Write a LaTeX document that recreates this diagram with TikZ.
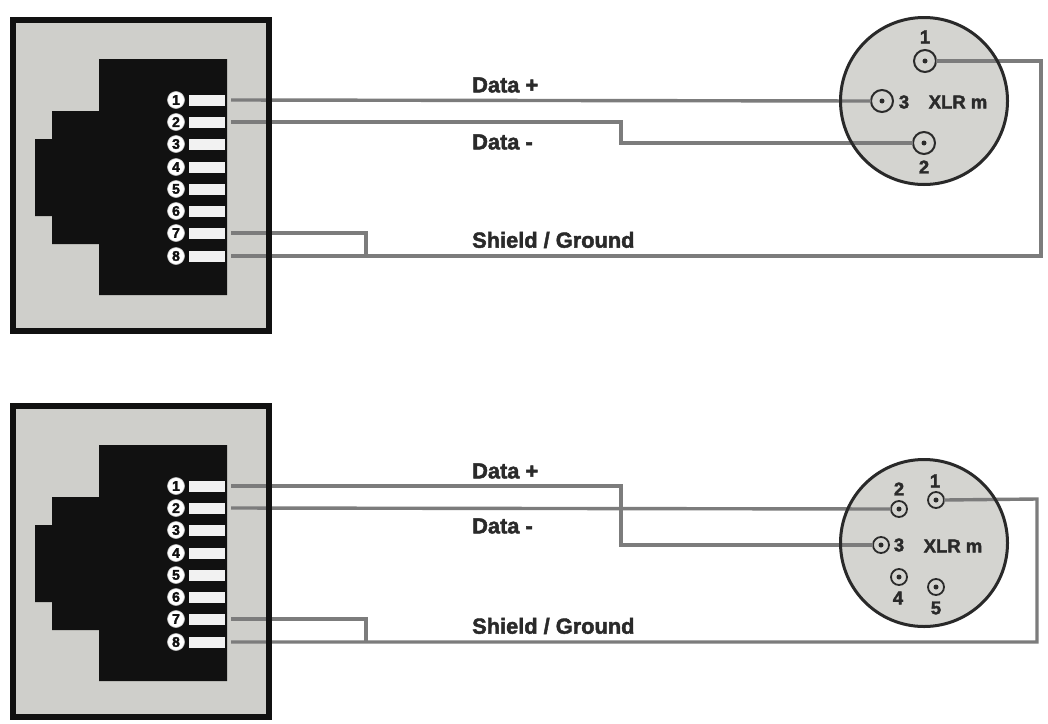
\documentclass[tikz,border=0pt]{standalone}
\usepackage{fontspec}
\setmainfont{Liberation Sans}[BoldFeatures={FakeBold=2}]
\definecolor{panelgrey}{HTML}{CFCFCB}
\definecolor{ink}{HTML}{111111}
\definecolor{wiregrey}{HTML}{7C7C7C}
\definecolor{labelink}{HTML}{2A2A2A}
\tikzset{
  panelbase/.style={rectangle,fill=panelgrey,minimum width=256pt,minimum height=311pt,inner sep=0pt,outer sep=0pt},
  panelline/.style={draw=ink,line width=6pt,line join=miter},
  padbox/.style={rectangle,fill=white!95!black,minimum width=36pt,minimum height=11pt,inner sep=0pt,outer sep=0pt},
  numdisc/.style={circle,fill=white,draw=white!75!black,line width=0.6pt,minimum size=17pt,inner sep=0pt,text=ink,font=\bfseries\fontsize{14}{14}\selectfont},
  xlrbase/.style={circle,fill=panelgrey!90!white,minimum size=169pt,inner sep=0pt,outer sep=0pt},
  xlrline/.style={draw=ink!90,line width=3pt},
  pinbig/.style={circle,draw=labelink,line width=2pt,minimum size=22pt,inner sep=0pt,outer sep=0pt},
  pinsmall/.style={circle,draw=labelink,line width=1.8pt,minimum size=16pt,inner sep=0pt,outer sep=0pt},
  pindot/.style={circle,fill=labelink,minimum size=5pt,inner sep=0pt},
  wire/.style={draw=wiregrey,line width=3.4pt,line join=miter},
  caption/.style={anchor=west,inner sep=0pt,text=labelink,font=\bfseries\fontsize{21.8}{22}\selectfont},
  pinlabel/.style={inner sep=0pt,text=labelink,font=\bfseries\fontsize{18.5}{19}\selectfont},
}
% #1 prefix, #2 vertical offset
\newcommand{\rjpanel}[2]{%
  \begin{scope}[shift={(0,#2)}]
    \node[panelbase] (#1panel) at (141,175.5) {};
    \fill[ink] (99,59) -- (227,59) -- (227,295) -- (99,295) -- (99,244) -- (52,244) -- (52,216)
      -- (35,216) -- (35,139) -- (52,139) -- (52,111) -- (99,111) -- cycle;
    \foreach \n/\yy in {1/100,2/122,3/144,4/167,5/189,6/211,7/233,8/256}{
      \node[padbox] (#1pad\n) at (207,\yy) {};
      \node[numdisc] (#1num\n) at (176,\yy) {\n};
    }
    \coordinate (#1w1) at ([xshift=6pt]#1pad1.east);
    \coordinate (#1w2) at ([xshift=6pt]#1pad2.east);
    \coordinate (#1w7) at ([xshift=6pt]#1pad7.east);
    \coordinate (#1w8) at ([xshift=6pt]#1pad8.east);
  \end{scope}}
\begin{document}
\begin{tikzpicture}[x=1pt,y=-1pt]
\useasboundingbox[fill=white] (0,0) rectangle (1048,723);

\rjpanel{a}{0}
\rjpanel{b}{386}

% top XLR
\node[xlrbase] (xa) at (924,101) {};
\node[pinbig] (xa1) at (925,61) {};
\node[pinbig] (xa3) at (882,101) {};
\node[pinbig] (xa2) at (924,143) {};
\foreach \p in {xa1,xa2,xa3} \node[pindot] at (\p) {};

% bottom XLR
\node[xlrbase] (xb) at (924,543) {};
\node[pinsmall] (xb1) at (936,500) {};
\node[pinsmall] (xb2) at (899,509) {};
\node[pinsmall] (xb3) at (881,545) {};
\node[pinsmall] (xb4) at (899,577) {};
\node[pinsmall] (xb5) at (936,587) {};
\foreach \p in {xb1,xb2,xb3,xb4,xb5} \node[pindot] at (\p) {};

% wires, top
\coordinate (ta) at (366,233);
\coordinate (tb) at (366,256);
\coordinate (tc) at (1041,256);
\coordinate (td) at (1041,61);
\coordinate (te) at (621,122);
\coordinate (tf) at (621,143);
\draw[wire] (aw1) -- (xa3.west);
\draw[wire] (aw2) -- (te) -- (tf) -- (xa2.west);
\draw[wire] (aw7) -- (ta) -- (tb);
\draw[wire] (aw8) -- (tc) -- (td) -- (xa1.east);

% wires, bottom
\coordinate (ba) at (366,619);
\coordinate (bb) at (366,642);
\coordinate (bc) at (1037,642);
\coordinate (bd) at (1037,499);
\coordinate (be) at (621,486);
\coordinate (bf) at (621,545);
\draw[wire] (bw1) -- (be) -- (bf) -- (xb3.west);
\draw[wire] (bw2) -- (xb2.west);
\draw[wire] (bw7) -- (ba) -- (bb);
\draw[wire] (bw8) -- (bc) -- (bd) -- (xb1.east);

% outlines above the wires
\draw[panelline] (apanel.south west) rectangle (apanel.north east);
\draw[panelline] (bpanel.south west) rectangle (bpanel.north east);
\draw[xlrline] (xa) circle[radius=83.5];
\draw[xlrline] (xb) circle[radius=83.5];

% captions
\node[caption] (c1) at (472,85) {Data +};
\node[caption] (c2) at (472,142) {Data -};
\node[caption] (c3) at (472,240) {Shield / Ground};
\node[caption] (c4) at (472,471) {Data +};
\node[caption] (c5) at (472,526) {Data -};
\node[caption] (c6) at (472,626) {Shield / Ground};

% pin labels
\node[pinlabel] (la1) at (925,37) {1};
\node[pinlabel] (la2) at (924,167) {2};
\node[pinlabel] (la3) at (904,102) {3};
\node[pinlabel] (lax) at (958,102) {XLR m};
\node[pinlabel] (lb1) at (935,481) {1};
\node[pinlabel] (lb2) at (899,489) {2};
\node[pinlabel] (lb3) at (899,545) {3};
\node[pinlabel] (lb4) at (898,598) {4};
\node[pinlabel] (lb5) at (936,608) {5};
\node[pinlabel] (lbx) at (953,546) {XLR m};
\end{tikzpicture}
\end{document}
